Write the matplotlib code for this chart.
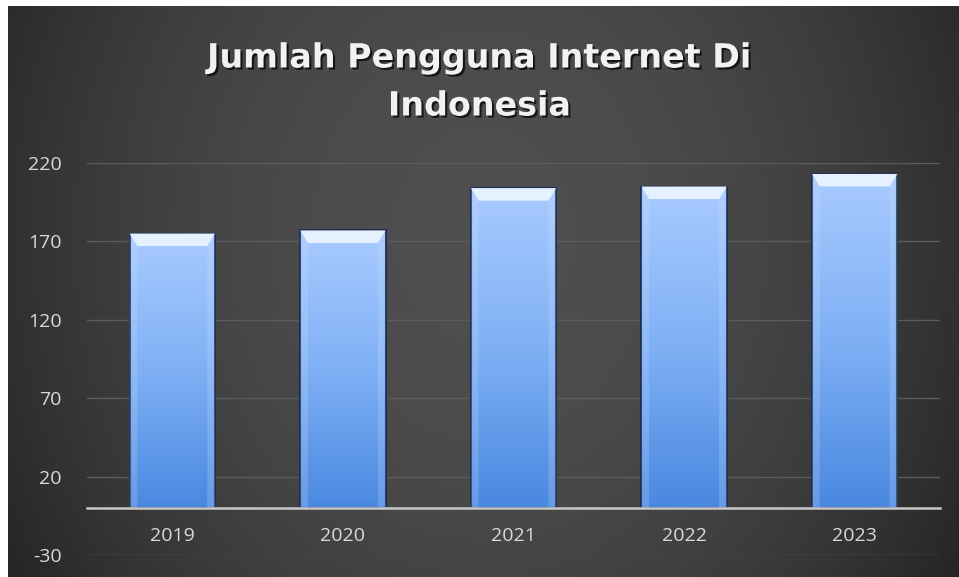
import numpy as np
import matplotlib.pyplot as plt
import matplotlib.patheffects as pe
from matplotlib.colors import LinearSegmentedColormap
from matplotlib.patches import Polygon

plt.rcParams["axes.unicode_minus"] = False

# data
tahun = ["2019", "2020", "2021", "2022", "2023"]
pengguna = [175, 177, 204, 205, 213]
yticks = [-30, 20, 70, 120, 170, 220]

W, H = 959, 577
fig = plt.figure(figsize=(W / 100, H / 100), dpi=100, facecolor="white")

# fondo gris oscuro con degradado
bg = fig.add_axes([8 / W, 0, (W - 8) / W, (H - 6) / H])
bg.set_axis_off()
gx, gy = np.meshgrid(np.linspace(-1, 1, 400), np.linspace(-1, 1, 240))
val = 0.31 - 0.12 * gx ** 2 - 0.03 * (gy + 0.2) ** 2
bg.imshow(np.dstack([val, val, val]), aspect="auto", extent=[0, 1, 0, 1])
bg.set_xlim(0, 1)
bg.set_ylim(0, 1)

ax = fig.add_axes([87 / W, 1 - 555 / H, (940 - 87) / W, (555 - 163) / H])
ax.patch.set_alpha(0)
x = np.arange(len(tahun))
bars = ax.bar(x, pengguna, width=0.5, color="none", edgecolor="#1c2f55",
              linewidth=1.5, zorder=3)

cmap = LinearSegmentedColormap.from_list("azul", ["#4a88e0", "#7fb0f5", "#a9cbff"])
grad = np.linspace(0, 1, 256).reshape(-1, 1)
for b in bars:
    x0, w, h = b.get_x(), b.get_width(), b.get_height()
    im = ax.imshow(grad, cmap=cmap, origin="lower", aspect="auto",
                   extent=[x0, x0 + w, 0, h], zorder=2)
    im.set_clip_path(b)
    # bisel superior
    d = 0.045
    top = Polygon([[x0, h], [x0 + w, h], [x0 + w - d, h - 8], [x0 + d, h - 8]],
                  closed=True, facecolor="#e6f1ff", edgecolor="none", zorder=4)
    ax.add_patch(top)
    for xs in ([x0, x0 + d], [x0 + w, x0 + w - d]):
        side = Polygon([[xs[0], h], [xs[1], h - 8], [xs[1], 0], [xs[0], 0]],
                       closed=True, facecolor="#cfe2ff", alpha=0.22,
                       edgecolor="none", zorder=4)
        ax.add_patch(side)

ax.set_xlim(-0.5, len(tahun) - 0.5)
ax.set_ylim(-30, 220)
ax.set_yticks(yticks)
ax.set_xticks(x, tahun)
ax.grid(axis="y", color="#5c5c5c", linewidth=1, zorder=0)
ax.set_axisbelow(True)
for s in ["top", "right", "left"]:
    ax.spines[s].set_visible(False)
ax.spines["bottom"].set_position(("data", 0))
ax.spines["bottom"].set_color("#c8c8c8")
ax.spines["bottom"].set_linewidth(1.8)
ax.spines["bottom"].set_zorder(5)
ax.tick_params(axis="y", length=0, pad=18, labelsize=14, labelcolor="#d9d9d9")
ax.tick_params(axis="x", length=0, pad=14, labelsize=14, labelcolor="#d9d9d9")
for t in ax.get_xticklabels() + ax.get_yticklabels():
    t.set_fontfamily("Open Sans")

sombra = [pe.withSimplePatchShadow(offset=(1.5, -1.5), shadow_rgbFace="black", alpha=0.7)]
fig.text(0.5, 1 - 58 / H, "Jumlah Pengguna Internet Di", ha="center", va="center",
         color="#f2f2f2", fontsize=24, fontweight="bold", family="DejaVu Sans",
         path_effects=sombra)
fig.text(0.5, 1 - 106 / H, "Indonesia", ha="center", va="center",
         color="#f2f2f2", fontsize=24, fontweight="bold", family="DejaVu Sans",
         path_effects=sombra)

fig.savefig("out.png", dpi=100, facecolor=fig.get_facecolor())
